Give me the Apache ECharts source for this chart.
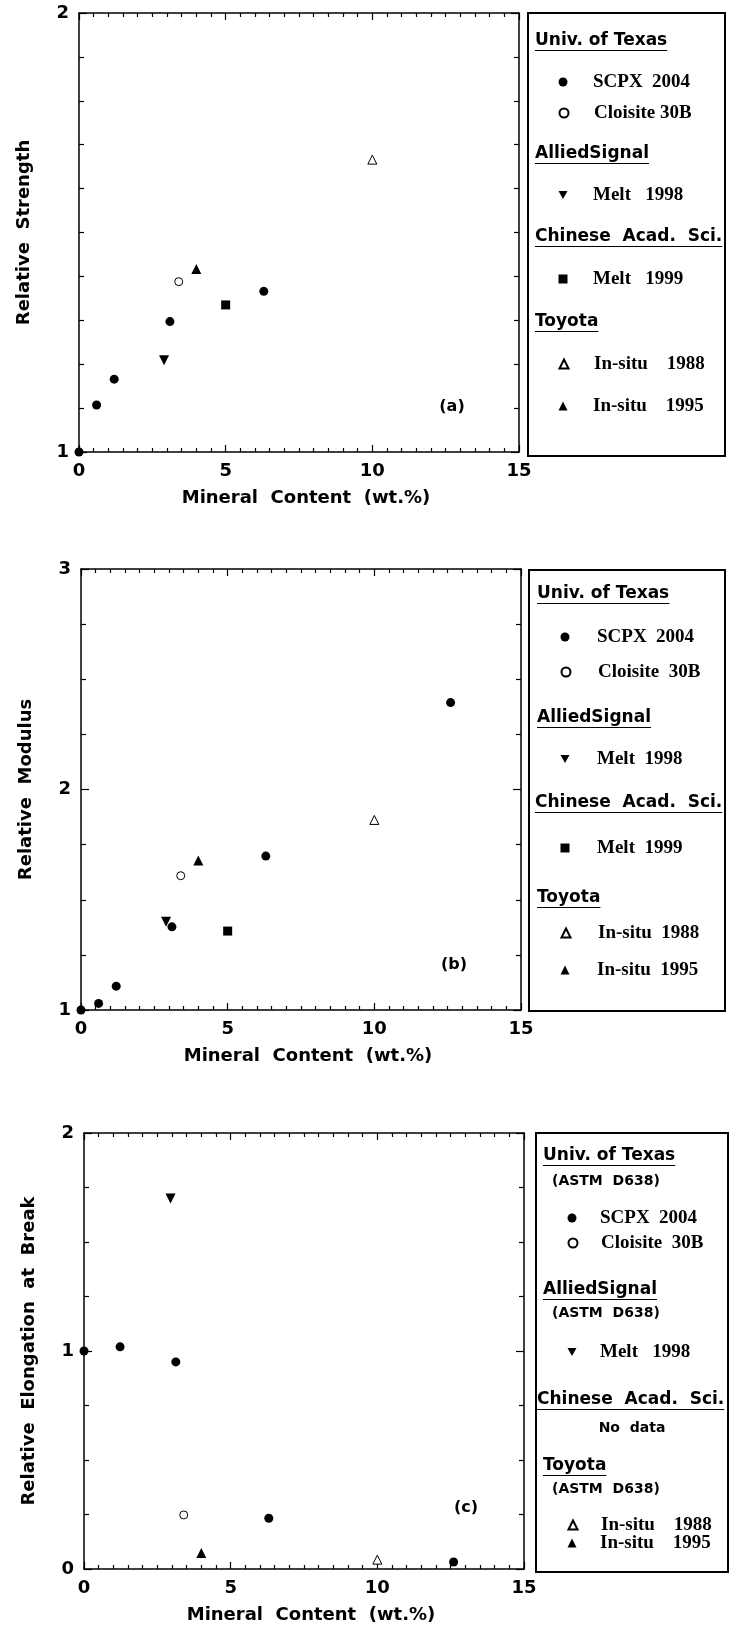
<!DOCTYPE html>
<html>
<head>
<meta charset="utf-8">
<title>Relative properties vs. mineral content</title>
<script src="https://cdn.jsdelivr.net/npm/echarts@6/dist/echarts.min.js"></script>
<style>
  html, body { margin: 0; padding: 0; background: #fff; }
  #chart { width: 733px; height: 1634px; }
</style>
</head>
<body>
<div id="chart"></div>
<script>
// ---- axis ranges ----
const mineralRange = [0, 15];
const strengthRange = [1, 2];
const modulusRange = [1, 3];
const elongationRange = [0, 2];

// ---- (a) relative strength, [wt.%, ratio] ----
const scpxStrength = [[0, 1.0], [0.6, 1.107], [1.2, 1.166], [3.1, 1.297], [6.3, 1.366]];
const cloisiteStrength = [[3.4, 1.388]];
const melt1998Strength = [[2.9, 1.209]];
const melt1999Strength = [[5.0, 1.335]];
const insitu1988Strength = [[10.0, 1.666]];
const insitu1995Strength = [[4.0, 1.417]];

// ---- (b) relative modulus ----
const scpxModulus = [[0, 1.0], [0.6, 1.03], [1.2, 1.108], [3.1, 1.377], [6.3, 1.698], [12.6, 2.394]];
const cloisiteModulus = [[3.4, 1.609]];
const melt1998Modulus = [[2.9, 1.40]];
const melt1999Modulus = [[5.0, 1.358]];
const insitu1988Modulus = [[10.0, 1.862]];
const insitu1995Modulus = [[4.0, 1.678]];

// ---- (c) relative elongation at break (no Chinese Acad. Sci. data) ----
const scpxElongation = [[0, 1.0], [1.23, 1.019], [3.13, 0.95], [6.3, 0.233], [12.6, 0.032]];
const cloisiteElongation = [[3.4, 0.248]];
const melt1998Elongation = [[2.95, 1.70]];
const insitu1988Elongation = [[10.0, 0.043]];
const insitu1995Elongation = [[4.0, 0.073]];

// series names shared by all three panels (legend items use them)
const seriesNames = {
  scpx: 'SCPX 2004',
  cloisite: 'Cloisite 30B',
  melt1998: 'Melt 1998',
  melt1999: 'Melt 1999',
  insitu1988: 'In-situ 1988',
  insitu1995: 'In-situ 1995'
};

// marker look per series
const markerStyle = {
  scpx:       { symbol: 'circle',   size: 9,  rotate: 0,   fill: '#000' },
  cloisite:   { symbol: 'circle',   size: 8,  rotate: 0,   fill: '#fff' },
  melt1998:   { symbol: 'triangle', size: 10, rotate: 180, fill: '#000' },
  melt1999:   { symbol: 'rect',     size: 9,  rotate: 0,   fill: '#000' },
  insitu1988: { symbol: 'triangle', size: 9,  rotate: 0,   fill: '#fff' },
  insitu1995: { symbol: 'triangle', size: 10, rotate: 0,   fill: '#000' }
};
// legend does not pick up symbolRotate reliably, so the down triangle gets a path icon
const DOWN_TRIANGLE_ICON = 'path://M0,0L10,0L5,9Z';

const SANS = 'DejaVu Sans';
const SERIF = 'Liberation Serif';
const LEGEND_ICON = 9;

/**
 * Panel layout: plot box, legend box and legend rows
 */
const panels = [
  {
    tag: '(a)', tagPos: [452, 407],
    grid: { left: 79, top: 13, width: 440, height: 439 },
    yRange: strengthRange, yMinor: 10, yName: 'Relative  Strength',
    data: {
      scpx: scpxStrength, cloisite: cloisiteStrength, melt1998: melt1998Strength,
      melt1999: melt1999Strength, insitu1988: insitu1988Strength, insitu1995: insitu1995Strength
    },
    box: [528, 13, 197, 443], headX: 535, iconX: 563, textX: 593,
    rows: [
      { head: 'Univ. of Texas', y: 41 },
      { item: 'scpx', label: 'SCPX  2004', y: 82 },
      { item: 'cloisite', label: 'Cloisite 30B', y: 113 },
      { head: 'AlliedSignal', y: 154 },
      { item: 'melt1998', label: 'Melt   1998', y: 195 },
      { head: 'Chinese  Acad.  Sci.', y: 237 },
      { item: 'melt1999', label: 'Melt   1999', y: 279 },
      { head: 'Toyota', y: 322 },
      { item: 'insitu1988', label: 'In-situ    1988', y: 364 },
      { item: 'insitu1995', label: 'In-situ    1995', y: 406 }
    ]
  },
  {
    tag: '(b)', tagPos: [454, 965],
    grid: { left: 81, top: 569, width: 440, height: 441 },
    yRange: modulusRange, yMinor: 4, yName: 'Relative  Modulus',
    data: {
      scpx: scpxModulus, cloisite: cloisiteModulus, melt1998: melt1998Modulus,
      melt1999: melt1999Modulus, insitu1988: insitu1988Modulus, insitu1995: insitu1995Modulus
    },
    box: [529, 570, 196, 441], headX: 537, iconX: 565, textX: 597,
    rows: [
      { head: 'Univ. of Texas', y: 594 },
      { item: 'scpx', label: 'SCPX  2004', y: 637 },
      { item: 'cloisite', label: 'Cloisite  30B', y: 672 },
      { head: 'AlliedSignal', y: 718 },
      { item: 'melt1998', label: 'Melt  1998', y: 759 },
      { head: 'Chinese  Acad.  Sci.', y: 803, dx: -2 },
      { item: 'melt1999', label: 'Melt  1999', y: 848 },
      { head: 'Toyota', y: 898 },
      { item: 'insitu1988', label: 'In-situ  1988', y: 933 },
      { item: 'insitu1995', label: 'In-situ  1995', y: 970 }
    ]
  },
  {
    tag: '(c)', tagPos: [466, 1508],
    grid: { left: 84, top: 1133, width: 440, height: 436 },
    yRange: elongationRange, yMinor: 4, yName: 'Relative  Elongation  at  Break',
    data: {
      scpx: scpxElongation, cloisite: cloisiteElongation, melt1998: melt1998Elongation,
      insitu1988: insitu1988Elongation, insitu1995: insitu1995Elongation
    },
    box: [536, 1133, 192, 439], headX: 543, iconX: 572, textX: 600,
    rows: [
      { head: 'Univ. of Texas', y: 1156 },
      { sub: '(ASTM  D638)', y: 1181 },
      { item: 'scpx', label: 'SCPX  2004', y: 1218 },
      { item: 'cloisite', label: 'Cloisite  30B', y: 1243 },
      { head: 'AlliedSignal', y: 1290 },
      { sub: '(ASTM  D638)', y: 1313 },
      { item: 'melt1998', label: 'Melt   1998', y: 1352 },
      { head: 'Chinese  Acad.  Sci.', y: 1400, dx: -6 },
      { note: 'No  data', y: 1428 },
      { head: 'Toyota', y: 1466 },
      { sub: '(ASTM  D638)', y: 1489 },
      { item: 'insitu1988', label: 'In-situ    1988', y: 1525 },
      { item: 'insitu1995', label: 'In-situ    1995', y: 1543 }
    ]
  }
];

// text width helper for the heading underlines
const measureCtx = document.createElement('canvas').getContext('2d');
function textWidth(str, font) {
  measureCtx.font = font;
  return measureCtx.measureText(str).width;
}

const labelFont = { fontFamily: SANS, fontWeight: 'bold', fontSize: 18, color: '#000' };
const axisLineStyle = { color: '#000', width: 1.5 };
const tickLineStyle = { color: '#000', width: 1.2 };

function makeXAxis(i, labelled) {
  return {
    gridIndex: i,
    type: 'value',
    position: labelled ? 'bottom' : 'top',
    min: mineralRange[0],
    max: mineralRange[1],
    interval: 5,
    name: labelled ? 'Mineral  Content  (wt.%)' : '',
    nameLocation: 'middle',
    nameGap: 37,
    nameTextStyle: Object.assign({ padding: [0, 0, 0, 14] }, labelFont),
    axisLine: { show: true, onZero: false, lineStyle: axisLineStyle },
    axisTick: { show: true, inside: true, length: 7, lineStyle: tickLineStyle },
    minorTick: { show: true, splitNumber: 10, length: 4, lineStyle: tickLineStyle },
    axisLabel: Object.assign({ show: labelled, margin: 10 }, labelFont),
    splitLine: { show: false }
  };
}

function makeYAxis(i, p, labelled) {
  return {
    gridIndex: i,
    type: 'value',
    position: labelled ? 'left' : 'right',
    min: p.yRange[0],
    max: p.yRange[1],
    interval: 1,
    name: labelled ? p.yName : '',
    nameLocation: 'middle',
    nameRotate: 90,
    nameGap: 46,
    nameTextStyle: labelFont,
    axisLine: { show: true, onZero: false, lineStyle: axisLineStyle },
    axisTick: { show: true, inside: true, length: 8, lineStyle: tickLineStyle },
    minorTick: { show: true, splitNumber: p.yMinor, length: 5, lineStyle: tickLineStyle },
    axisLabel: Object.assign({ show: labelled, margin: 10 }, labelFont),
    splitLine: { show: false }
  };
}

const grids = [];
const xAxes = [];
const yAxes = [];
const seriesList = [];
const legends = [];
const graphics = [];

panels.forEach((p, i) => {
  grids.push(p.grid);
  xAxes.push(makeXAxis(i, true), makeXAxis(i, false));
  yAxes.push(makeYAxis(i, p, true), makeYAxis(i, p, false));

  // scatter series of this panel
  Object.keys(p.data).forEach(key => {
    const m = markerStyle[key];
    seriesList.push({
      name: seriesNames[key],
      type: 'scatter',
      xAxisIndex: i * 2,
      yAxisIndex: i * 2,
      data: p.data[key],
      clip: false,
      symbol: m.symbol,
      symbolSize: m.size,
      symbolRotate: m.rotate,
      itemStyle: { color: m.fill, borderColor: '#000', borderWidth: m.fill === '#fff' ? 1 : 0, opacity: 1 },
      emphasis: { disabled: true }
    });
  });

  // legend frame
  graphics.push({
    type: 'rect',
    shape: { x: p.box[0], y: p.box[1], width: p.box[2], height: p.box[3] },
    style: { fill: 'none', stroke: '#000', lineWidth: 2 }
  });

  // panel tag (a)/(b)/(c)
  graphics.push({
    type: 'text', x: p.tagPos[0], y: p.tagPos[1],
    style: { text: p.tag, fill: '#000', font: 'bold 16px "' + SANS + '"', textAlign: 'center', textVerticalAlign: 'middle' }
  });

  // legend rows: headings are plain text, marker rows are one-item legends
  const textPad = p.textX - (p.iconX + LEGEND_ICON / 2) - 5;
  p.rows.forEach(r => {
    if (r.head) {
      const font = 'bold 17px "' + SANS + '"';
      const hx = p.headX + (r.dx || 0);
      graphics.push({
        type: 'text', x: hx, y: r.y,
        style: { text: r.head, fill: '#000', font: font, textAlign: 'left', textVerticalAlign: 'middle' }
      });
      graphics.push({
        type: 'line',
        shape: { x1: hx, y1: r.y + 9.5, x2: hx + textWidth(r.head, font), y2: r.y + 9.5 },
        style: { stroke: '#000', lineWidth: 1.2 }
      });
    } else if (r.sub) {
      graphics.push({
        type: 'text', x: p.headX + 9, y: r.y,
        style: { text: r.sub, fill: '#000', font: 'bold 14px "' + SANS + '"', textAlign: 'left', textVerticalAlign: 'middle' }
      });
    } else if (r.note) {
      graphics.push({
        type: 'text', x: p.box[0] + p.box[2] / 2, y: r.y,
        style: { text: r.note, fill: '#000', font: 'bold 14px "' + SANS + '"', textAlign: 'center', textVerticalAlign: 'middle' }
      });
    } else if (r.item) {
      const entry = { name: seriesNames[r.item] };
      if (r.item === 'melt1998') entry.icon = DOWN_TRIANGLE_ICON;
      legends.push({
        data: [entry],
        left: p.iconX - LEGEND_ICON / 2,
        top: r.y - 10,
        padding: 0,
        itemWidth: LEGEND_ICON,
        itemHeight: LEGEND_ICON,
        selectedMode: false,
        formatter: r.label,
        textStyle: {
          fontFamily: SERIF, fontWeight: 'bold', fontSize: 19, color: '#000',
          lineHeight: 20, padding: [0, 0, 0, textPad]
        }
      });
    }
  });
});

const myChart = echarts.init(document.getElementById('chart'), null, { renderer: 'canvas' });
myChart.setOption({
  animation: false,
  backgroundColor: '#fff',
  grid: grids,
  xAxis: xAxes,
  yAxis: yAxes,
  legend: legends,
  graphic: graphics,
  series: seriesList
});
</script>
</body>
</html>
